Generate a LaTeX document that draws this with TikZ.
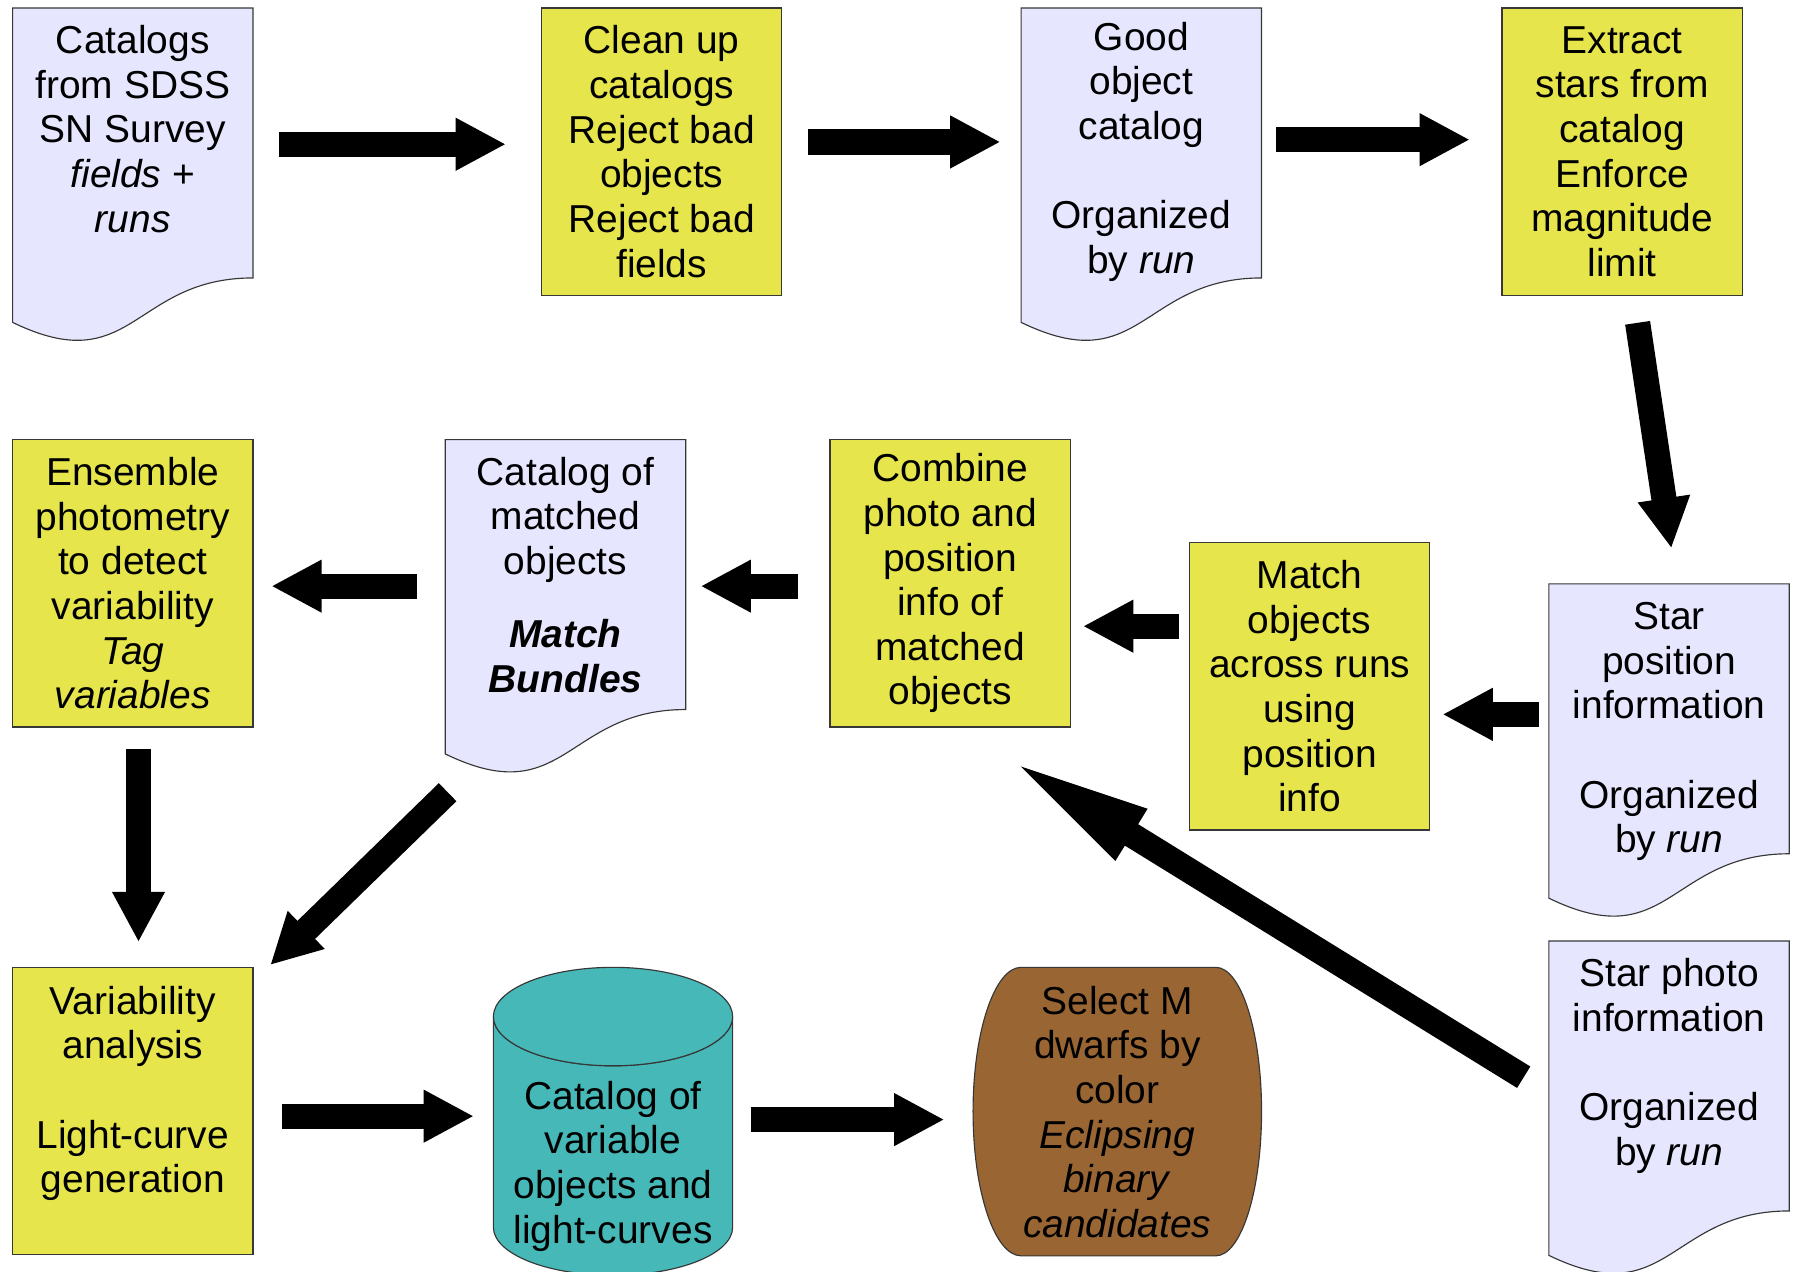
\documentclass[tikz,border=0pt]{standalone}
\usepackage{fontspec}
\setmainfont{Liberation Sans}
\usetikzlibrary{calc,arrows.meta}
\definecolor{lav}{RGB}{230,230,255}
\definecolor{ylw}{RGB}{230,230,76}
\definecolor{tealc}{RGB}{71,184,184}
\definecolor{brn}{RGB}{153,102,51}
\definecolor{edgec}{RGB}{55,55,55}
\newcommand\fs{\fontsize{34}{39}\selectfont}
\newcommand\docshape[1]{%
  \coordinate (#1-rc) at ($(#1.north east)!0.802!(#1.south east)$);
  \coordinate (#1-lc) at ($(#1.north west)!0.934!(#1.south west)$);
  \coordinate (#1-c1) at ($(#1.north)!0.802!(#1.south)$);
  \coordinate (#1-c2) at ($(#1.north)!1.1075!(#1.south)$);
  \draw[docfill] (#1.north west) -- (#1.north east) -- (#1-rc)
     .. controls (#1-c1) and (#1-c2) .. (#1-lc) -- cycle;}
\tikzset{
  shapebox/.style={rectangle, inner sep=0pt, outer sep=0pt, minimum width=210pt,
     minimum height=294pt, anchor=north west},
  docfill/.style={fill=lav, draw=edgec, line width=1pt},
  ybox/.style={rectangle, draw=edgec, fill=ylw, line width=1pt, inner sep=0pt, outer sep=0pt,
     minimum width=210pt, minimum height=251pt, anchor=north west, align=center, font=\fs},
  txt/.style={align=center, inner sep=0pt, font=\fs, anchor=north},
  blk/.style={line width=22pt, black, -{Triangle[length=44pt,width=43pt]}},
  bigblk/.style={line width=22pt, black, -{Triangle[length=128pt,width=46pt]}},
  cylstyle/.style={fill=tealc, draw=edgec, line width=1pt},
  brnstyle/.style={fill=brn, draw=edgec, line width=1pt},
}
\begin{document}
\begin{tikzpicture}[x=1pt,y=-1pt]
\useasboundingbox (0,0) rectangle (1568,1111);

% ---- row 1
\node[shapebox] (A) at (11,7) {};
\docshape{A}
\node[txt] (At) at ($(A.north)+(0,15)$) {Catalogs\\from SDSS\\SN Survey\\\textit{fields} +\\\textit{runs}};

\node[ybox] (B) at (473,7) {Clean up\\catalogs\\Reject bad\\objects\\Reject bad\\fields};

\node[shapebox] (C) at (892,7) {};
\docshape{C}
\node[txt] (Ct) at ($(C.north)+(0,12)$) {Good\\object\\catalog\\[39pt]Organized\\by \textit{run}};

\node[ybox] (D) at (1312,7) {Extract\\stars from\\catalog\\Enforce\\magnitude\\limit};

% ---- row 2
\node[ybox] (E) at (11,384) {Ensemble\\photometry\\to detect\\variability\\\textit{Tag}\\\textit{variables}};

\node[shapebox] (F) at (389,384) {};
\docshape{F}
\node[txt] (Ft) at ($(F.north)+(0,15)$) {Catalog of\\matched\\objects\\[25pt]\textbf{\textit{Match}}\\\textbf{\textit{Bundles}}};

\node[ybox] (G) at (725,384) {Combine\\photo and\\position\\info of\\matched\\objects};

\node[ybox] (H) at (1039,474) {Match\\objects\\across runs\\using\\position\\info};

\node[shapebox] (I) at (1353,510) {};
\docshape{I}
\node[txt] (It) at ($(I.north)+(0,16)$) {Star\\position\\information\\[39pt]Organized\\by \textit{run}};

% ---- row 3
\node[ybox] (J) at (11,845) {};
\node[txt] (Jt) at ($(J.north)+(0,16)$) {Variability\\analysis\\[39pt]Light-curve\\generation};

\node[shapebox, minimum width=209pt, minimum height=269pt] (L) at (431,845) {};
\draw[cylstyle] ($(L.north west)+(0,43)$) -- ($(L.south west)+(0,-42)$)
   arc[start angle=180, end angle=0, x radius=104.5, y radius=42]
   -- ($(L.north east)+(0,43)$)
   arc[start angle=0, end angle=180, x radius=104.5, y radius=43] -- cycle;
\draw[cylstyle] ($(L.north)+(0,43)$) ellipse[x radius=104.5, y radius=43];
\node[txt] (Lt) at ($(L.north)+(0,99)$) {Catalog of\\variable\\objects and\\light-curves};

\node[shapebox, minimum width=252pt, minimum height=252pt] (M) at (850,845) {};
\draw[brnstyle] ($(M.north west)+(42,0)$) -- ($(M.north east)+(-40,0)$)
   arc[start angle=-90, end angle=90, x radius=40, y radius=126]
   -- ($(M.south west)+(42,0)$)
   arc[start angle=90, end angle=270, x radius=42, y radius=126] -- cycle;
\node[txt] (Mt) at ($(M.north)+(0,16)$) {Select M\\dwarfs by\\color\\\textit{Eclipsing}\\\textit{binary}\\\textit{candidates}};

\node[shapebox] (K) at (1353,822) {};
\docshape{K}
\node[txt] (Kt) at ($(K.north)+(0,15)$) {Star photo\\information\\[39pt]Organized\\by \textit{run}};

% ---- connectors
\draw[blk] ($(A.north east)+(23,119)$) -- ($(B.north west)+(-31,119)$);
\draw[blk] ($(B.north east)+(23,117)$) -- ($(C.north west)+(-18,117)$);
\draw[blk] ($(C.north east)+(13,115)$) -- ($(D.north west)+(-28,115)$);
\draw[blk] ($(D.south)+(13.5,24)$) -- ($(I.north)+(2,-31)$);
\draw[blk] ($(I.north west)+(-9,114)$) -- ($(H.north east)+(11,150)$);
\draw[blk] ($(H.north west)+(-9,73)$) -- ($(G.north east)+(11,163)$);
\draw[blk] ($(G.north west)+(-28,128)$) -- ($(F.north east)+(13,128)$);
\draw[blk] ($(F.north west)+(-25,128)$) -- ($(E.north east)+(16,128)$);
\draw[blk] ($(E.south)+(5,19)$) -- ($(J.north)+(5,-22)$);
\draw[blk] ($(F.south west)+(2,14)$) -- ($(J.north east)+(15,-2)$);
\draw[bigblk] ($(K.north west)+(-22,119)$) -- ($(G.south)+(49.5,27)$);
\draw[blk] ($(J.north east)+(25,130)$) -- ($(L.north west)+(-17,130)$);
\draw[blk] ($(L.north east)+(16,133)$) -- ($(M.north west)+(-25,133)$);
\end{tikzpicture}
\end{document}
